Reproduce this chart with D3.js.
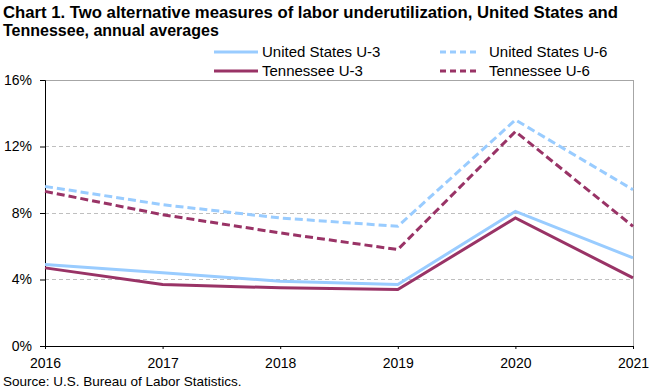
<!DOCTYPE html>
<html>
<head>
<meta charset="utf-8">
<script src="https://cdn.jsdelivr.net/npm/d3@7"></script>
<style>
  body { margin: 0; background: #fff; }
  svg { display: block; font-family: Arial, "Liberation Sans", sans-serif; }
</style>
</head>
<body>
<svg id="chart" width="660" height="391"></svg>
<script>
const years = [2016, 2017, 2018, 2019, 2020, 2021];
const usU3 = [4.9, 4.4, 3.9, 3.7, 8.1, 5.3];
const tnU3 = [4.7, 3.7, 3.5, 3.4, 7.7, 4.1];
const usU6 = [9.6, 8.5, 7.7, 7.2, 13.6, 9.4];
const tnU6 = [9.3, 7.9, 6.8, 5.8, 12.9, 7.2];
const yTicks = [0, 4, 8, 12, 16];
const seriesNames = ["United States U-3", "United States U-6", "Tennessee U-3", "Tennessee U-6"];
const titleLines = ["Chart 1. Two alternative measures of labor underutilization, United States and",
                    "Tennessee, annual averages"];
const sourceText = "Source: U.S. Bureau of Labor Statistics.";

const blue = "#99CCFF", maroon = "#993366";
const series = [
  { name: seriesNames[0], values: usU3, color: blue, dash: null },
  { name: seriesNames[1], values: usU6, color: blue, dash: "8,4" },
  { name: seriesNames[2], values: tnU3, color: maroon, dash: null },
  { name: seriesNames[3], values: tnU6, color: maroon, dash: "8,4" }
];

const svg = d3.select("#chart");
const pLeft = 45, pRight = 633, pTop = 80, pBottom = 346;
const x = d3.scaleLinear().domain([2016, 2021]).range([pLeft, pRight]);
const y = d3.scaleLinear().domain([0, 16]).range([pBottom, pTop]);

// Title
svg.append("g").selectAll("text").data(titleLines).join("text")
  .attr("x", 3).attr("y", (d, i) => 18 + i * 18)
  .attr("font-size", "16px").attr("font-weight", "bold").attr("fill", "#000")
  .text(d => d)
  .each(function(d, i) { if (i === 0) d3.select(this).attr("textLength", 615).attr("lengthAdjust", "spacingAndGlyphs"); });

// Gridlines
svg.append("g").selectAll("line").data(yTicks.filter(t => t > 0 && t < 16)).join("line")
  .attr("x1", pLeft).attr("x2", pRight)
  .attr("y1", d => y(d)).attr("y2", d => y(d))
  .attr("stroke", "#BFBFBF").attr("stroke-width", 1).attr("stroke-dasharray", "4,3")
  .attr("shape-rendering", "crispEdges");

// Top and right border
svg.append("path")
  .attr("d", `M${pLeft},${y(16)}H${pRight}V${pBottom}`)
  .attr("fill", "none").attr("stroke", "#A6A6A6").attr("stroke-width", 1)
  .attr("shape-rendering", "crispEdges");

// Y axis
const yAxis = svg.append("g").attr("transform", `translate(${pLeft},0)`)
  .call(d3.axisLeft(y).tickValues(yTicks).tickFormat(d => d + "%").tickSize(5).tickPadding(8));
yAxis.select(".domain").attr("stroke", "#000");
yAxis.selectAll(".tick line").attr("stroke", "#000");
yAxis.selectAll("text").attr("font-size", "14px").attr("font-family", "Arial, 'Liberation Sans', sans-serif").attr("fill", "#000");

// X axis
const xAxis = svg.append("g").attr("transform", `translate(0,${pBottom})`)
  .call(d3.axisBottom(x).tickValues(years).tickFormat(d3.format("d")).tickSize(3).tickSizeOuter(0).tickPadding(9));
xAxis.select(".domain").attr("stroke", "#000");
xAxis.selectAll(".tick line").attr("stroke", "#000");
xAxis.selectAll("text").attr("font-size", "14px").attr("font-family", "Arial, 'Liberation Sans', sans-serif").attr("fill", "#000");

// Lines
const line = d3.line().x((d, i) => x(years[i])).y(d => y(d));
svg.append("g").selectAll("path").data(series).join("path")
  .attr("d", d => line(d.values))
  .attr("fill", "none").attr("stroke", d => d.color).attr("stroke-width", 3)
  .attr("stroke-dasharray", d => d.dash).attr("stroke-linejoin", "miter");

// Legend
const legPos = [
  { lx: 214, ly: 52 }, { lx: 440, ly: 52 },
  { lx: 214, ly: 71 }, { lx: 440, ly: 71 }
];
const leg = svg.append("g").selectAll("g").data(series).join("g")
  .attr("transform", (d, i) => `translate(${legPos[i].lx},${legPos[i].ly})`);
leg.append("line").attr("x1", 0).attr("x2", d => d.dash ? 38 : 44).attr("y1", 0).attr("y2", 0)
  .attr("stroke", d => d.color).attr("stroke-width", 3).attr("stroke-dasharray", d => d.dash ? "6,4" : null);
leg.append("text").attr("x", d => d.dash ? 49 : 48).attr("y", 5)
  .attr("font-size", "15px").attr("fill", "#000").text(d => d.name);

// Source
svg.append("text").attr("x", 3).attr("y", 386).attr("font-size", "13.5px").attr("fill", "#000").text(sourceText);
</script>
</body>
</html>
